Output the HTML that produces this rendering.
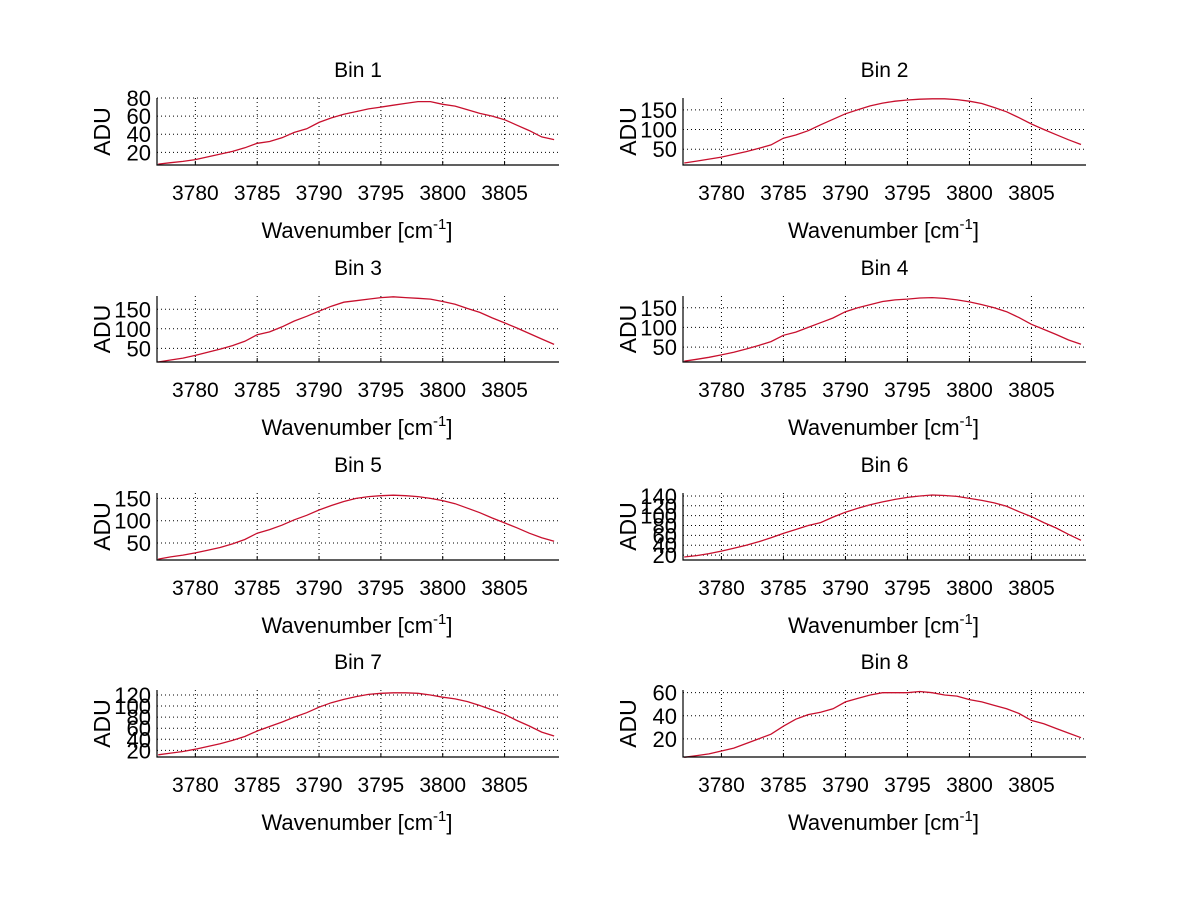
<!DOCTYPE html>
<html><head><meta charset="utf-8"><style>
html,body{margin:0;padding:0;background:#fff;}
svg{display:block;font-family:"Liberation Sans",Arial,sans-serif;}
</style></head><body>
<svg id="fig" width="1200" height="901" viewBox="0 0 1200 901" xmlns="http://www.w3.org/2000/svg">
<rect width="1200" height="901" fill="#fff"/>
</svg>
<script>
const wavenumbers = [3777,3778,3779,3780,3781,3782,3783,3784,3785,3786,3787,3788,3789,3790,3791,3792,3793,3794,3795,3796,3797,3798,3799,3800,3801,3802,3803,3804,3805,3806,3807,3808,3809];
const xTicks = [3780,3785,3790,3795,3800,3805];
const bin1 = [7,8.5,10,12,15,18,21,25,30,32,36,42,46,53,58,62,65,68,70,72,74,76,76,73,71,67,63,60,56,50,44,37,34];
const bin2 = [15,20,25,30,37,44,52,61,78,86,97,112,126,140,150,160,167,172,175,177,178,178,176,172,166,156,145,130,114,100,87,74,62];
const bin3 = [15,20,25,32,40,48,57,68,85,92,105,120,132,145,158,168,172,176,180,182,180,178,176,170,163,152,142,128,115,102,88,74,60];
const bin4 = [14,19,24,30,37,45,54,64,80,88,100,112,124,140,150,158,166,170,172,175,176,174,170,165,158,150,140,125,108,95,82,68,57];
const bin5 = [14,19,23,28,34,40,48,58,72,80,90,102,112,124,134,143,150,154,156,157,156,154,150,145,138,128,118,106,95,84,72,62,54];
const bin6 = [16,19,23,28,34,40,47,55,64,72,80,86,97,107,115,122,128,133,137,140,142,141,139,135,131,126,119,108,98,86,75,62,50];
const bin7 = [12,15,18,22,27,32,38,45,55,63,71,80,88,98,106,112,117,121,123,124,124,123,120,116,113,108,101,93,85,74,64,53,46];
const bin8 = [4,5.5,7,9.5,12,16,20,24,31,37,41,43,46,52,55,58,60,60,60,61,60,58,57,54,52,49,46,42,36,33,29,25,21];
const ylims = [[6,80],[10,180],[15,184],[12,180],[12,162],[10,146],[8,129],[4.3,62.3]];
const yTicks = [[20,40,60,80],[50,100,150],[50,100,150],[50,100,150],[50,100,150],[20,40,60,80,100,120,140],[20,40,60,80,100,120],[20,40,60]];
const series = [bin1,bin2,bin3,bin4,bin5,bin6,bin7,bin8];
const xMin = 3776.9, xMax = 3809.4;

const NS = "http://www.w3.org/2000/svg";
const fig = document.getElementById('fig');
function mk(tag, attrs, parent){const e=document.createElementNS(NS,tag);for(const k in attrs)e.setAttribute(k,attrs[k]);(parent||fig).appendChild(e);return e;}

const colsX = [[157,559],[683,1086]];
const rowsY = [[98,165],[296,362],[493,560],[690,757]];

series.forEach((data,i)=>{
  const col=i%2,row=Math.floor(i/2);
  const [x0,x1]=colsX[col],[y0,y1]=rowsY[row];
  const [ymin,ymax]=ylims[i];
  const sx=v=>x0+(v-xMin)/(xMax-xMin)*(x1-x0);
  const sy=v=>y1-(v-ymin)/(ymax-ymin)*(y1-y0);
  const g=mk('g',{});
  
  
  xTicks.forEach(t=>{
    const l=mk('line',{x1:sx(t),x2:sx(t),y1:y0,y2:y1,stroke:'#000','stroke-width':1,'stroke-dasharray':'1,3'},g);
    
    
    const tk=mk('line',{x1:sx(t),x2:sx(t),y1:y1,y2:y1-4,stroke:'#000'},g);
    
    
    const tx=mk('text',{x:sx(t),y:y1+35,'font-size':21,'text-anchor':'middle',fill:'#000'},g);
    tx.textContent=t;
    
    
  });
  yTicks[i].forEach(t=>{
    const l=mk('line',{x1:x0,x2:x1,y1:sy(t),y2:sy(t),stroke:'#000','stroke-width':1,'stroke-dasharray':'1,3'},g);
    
    
    const tx=mk('text',{x:x0-6,y:sy(t)+8,'font-size':22,'text-anchor':'end',fill:'#000'},g);
    tx.textContent=t;
    
    
  });
  const pts=data.map((v,j)=>sx(wavenumbers[j]).toFixed(1)+','+sy(v).toFixed(1)).join(' ');
  const pl=mk('polyline',{points:pts,fill:'none',stroke:'#c8102e','stroke-width':1.3},g);
  
  
  const ax=mk('path',{d:`M${x0},${y0}V${y1}H${x1}`,fill:'none',stroke:'#000','stroke-width':1.2},g);
  
  
  const ti=mk('text',{x:(x0+x1)/2,y:y0-21,'font-size':21,'text-anchor':'middle',fill:'#000'},g);
  ti.textContent='Bin '+(i+1);
  
  
  const xl=mk('text',{x:(x0+x1)/2-1,y:y1+73,'font-size':22,'text-anchor':'middle',fill:'#000'},g);
  xl.innerHTML='Wavenumber [cm<tspan dy="-9" font-size="15">-1</tspan><tspan dy="9">]</tspan>';
  
  
  const cy=(y0+y1)/2;
  const yl=mk('text',{x:x0-47,y:cy,'font-size':23,'text-anchor':'middle',fill:'#000',transform:`rotate(-90 ${x0-47} ${cy})`},g);
  yl.textContent='ADU';
  
  
});
</script>
</body></html>
